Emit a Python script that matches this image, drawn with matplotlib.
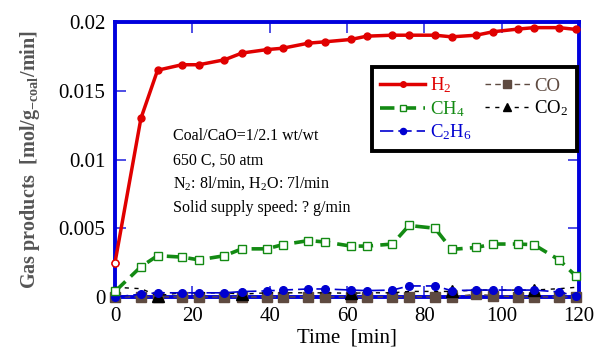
import matplotlib
matplotlib.use("Agg")
import matplotlib.pyplot as plt
from matplotlib.ticker import FixedLocator, FixedFormatter

plt.rcParams['font.family'] = ['Liberation Serif', 'DejaVu Serif']
plt.rcParams['mathtext.fontset'] = 'custom'
plt.rcParams['mathtext.rm'] = 'Liberation Serif'
plt.rcParams['mathtext.it'] = 'Liberation Serif:italic'
plt.rcParams['mathtext.bf'] = 'Liberation Serif:bold'

time = [0, 6.7, 11, 17.3, 21.7, 28.3, 32.8, 39.2, 43.3, 50, 54.3, 61, 65.1,
        71.7, 76, 82.7, 87, 93.4, 97.7, 104.3, 108.3, 114.8, 119.2]
h2 = [0.0025, 0.0130, 0.0165, 0.0169, 0.0169, 0.01726, 0.01775, 0.0180, 0.0181,
      0.01847, 0.01857, 0.01874, 0.01898, 0.01905, 0.01905, 0.01905, 0.01893,
      0.01905, 0.0193, 0.0195, 0.0196, 0.0196, 0.01947]
ch4 = [0.0004, 0.0022, 0.0030, 0.0029, 0.0027, 0.0030, 0.0035, 0.0035, 0.0038,
       0.0041, 0.0040, 0.0037, 0.0037, 0.00385, 0.0052, 0.0050, 0.00346, 0.0036,
       0.00385, 0.00385, 0.0038, 0.0027, 0.0015]
c2h6 = [0.0, 0.0002, 0.0003, 0.0003, 0.0003, 0.0003, 0.00039, 0.00044, 0.0005,
        0.00058, 0.00058, 0.0005, 0.00046, 0.0005, 0.0008, 0.0008, 0.00046, 0.0005,
        0.0005, 0.0005, 0.0005, 0.00036, 0.00007]
co = [0.0, 0.0, 0.0, 0.0, 0.0, 0.0, 0.0, 0.0, 0.0, 0.0, 0.0, 0.0, 0.0,
      0.0, 0.0, 0.0, 0.0, 0.0002, 0.0001, 0.0, 0.0, 0.0, 0.0]
co2 = [0.0007, 0.0006, 0.0001, 0.0003, 0.0003, 0.0003, 0.0002, 0.0003, 0.0003,
       0.0003, 0.0003, 0.00027, 0.0003, 0.0003, 0.0004, 0.0004, 0.0004, 0.0005,
       0.0005, 0.0005, 0.0005, 0.0006, 0.0007]
co2_marks = [2, 6, 11, 16, 20]

xticks = [0, 20, 40, 60, 80, 100, 120]
yticks = [0, 0.005, 0.01, 0.015, 0.02]
ytick_labels = ['0', '0.005', '0.01', '0.015', '0.02']

fig = plt.figure(figsize=(5.99, 3.63), dpi=100)
ax = fig.add_axes([0.192, 0.182, 0.775, 0.757])

red = '#e00000'
green = '#138a13'
blue = '#0000d0'
brown = '#5e4a40'

ax.plot(time, co, '--', color=brown, lw=1, dashes=(4, 3), marker='s', ms=7, mfc=brown, mec=brown,
        label='CO', clip_on=False, zorder=3)
ax.plot(time, co2, '--', color='black', lw=1, dashes=(3, 4), marker='^', ms=8,
        markevery=co2_marks, mfc='black', mec='black', label='CO$_2$', clip_on=False, zorder=4)
ax.plot(time, c2h6, color=blue, lw=1.2, dashes=(8, 3), marker='o', ms=5.5,
        mfc=blue, mec=blue, label='C$_2$H$_6$', clip_on=False, zorder=5)
ax.plot(time, ch4, color=green, lw=2.6, dashes=(4, 2), marker='s', ms=6,
        mfc='white', mec=green, mew=1, label='CH$_4$', clip_on=False, zorder=6)
ax.plot(time, h2, '-', color=red, lw=2.5, marker='o', ms=5, mfc=red, mec=red,
        label='H$_2$', clip_on=False, zorder=7)
ax.plot([0], [h2[0]], 'o', ms=5, mfc='white', mec=red, clip_on=False, zorder=8)

ax.set_xlim(0, 120)
ax.set_ylim(0, 0.02)
ax.xaxis.set_major_locator(FixedLocator(xticks))
ax.yaxis.set_major_locator(FixedLocator(yticks))
ax.yaxis.set_major_formatter(FixedFormatter(ytick_labels))
ax.tick_params(direction='in', length=8, width=1.2, color='#3030e0',
               top=True, right=True, labelsize=15, pad=7)
for sp in ax.spines.values():
    sp.set_color('#0000dd')
    sp.set_linewidth(2.8)

ax.set_xlabel('Time  [min]', fontsize=15, labelpad=2)
ax.set_ylabel('Gas products  [mol/g$_{\\mathbf{-coal}}$/min]', fontsize=14.5,
              fontweight='bold', color='#555555', labelpad=12)

txt = ['Coal/CaO=1/2.1 wt/wt', '650 C, 50 atm',
       'N$_2$: 8l/min, H$_2$O: 7l/min', 'Solid supply speed: ? g/min']
ys = [0.0117, 0.0099, 0.0083, 0.0065]
for t, yv in zip(txt, ys):
    ax.text(15, yv, t, fontsize=11.5, va='center', ha='left')

handles, labels = ax.get_legend_handles_labels()
order = [4, 3, 2, 0, 1]
leg = ax.legend([handles[i] for i in order], [labels[i] for i in order], ncol=2,
                loc='upper right', bbox_to_anchor=(0.995, 0.836),
                borderaxespad=0, fontsize=13.5, frameon=True, fancybox=False,
                framealpha=1, edgecolor='black', handlelength=2.4, handletextpad=0.25,
                columnspacing=0.7, labelspacing=0.2, borderpad=0.45, markerscale=0.8)
leg.get_frame().set_linewidth(2.8)
cols = [red, green, blue, brown, 'black']
for t, c in zip(leg.get_texts(), cols):
    t.set_color(c)

fig.savefig('out.png', dpi=100)
